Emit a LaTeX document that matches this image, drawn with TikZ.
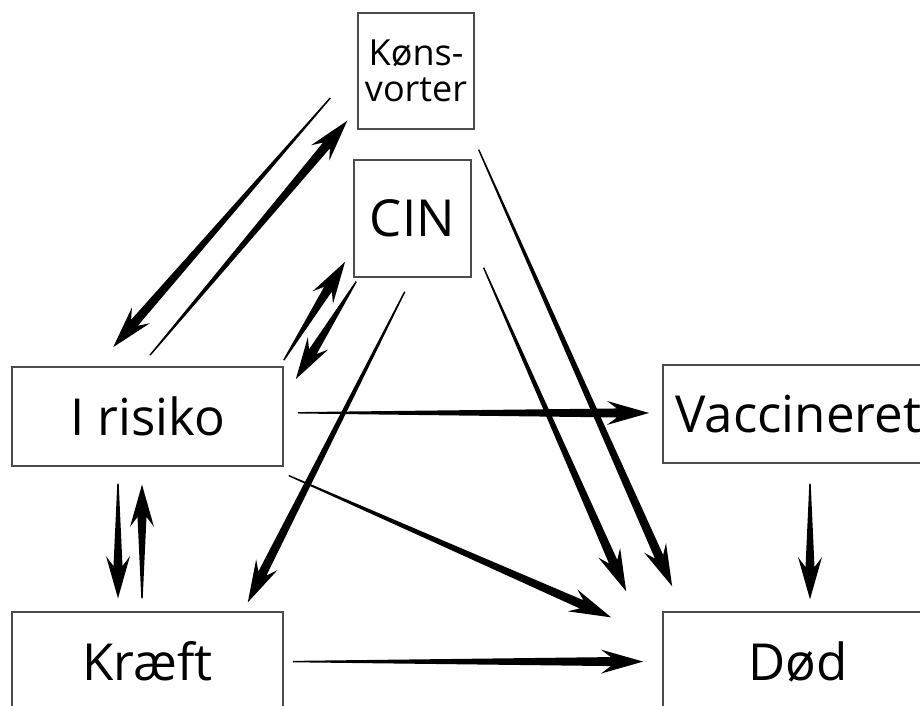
\documentclass[tikz,border=0pt]{standalone}
\usepackage{fontspec}
\setmainfont{Open Sans}
\usetikzlibrary{calc}
\tikzset{
  state/.style={draw=black!70, line width=1pt, inner sep=0pt,
    minimum width=6.775cm, minimum height=2.475cm,
    font=\fontsize{36.3}{40}\selectfont},
  smallstate/.style={state, minimum width=2.9cm, minimum height=2.9cm}
}
% tapered arrow, thin at the tail and wide at the head
\newcommand{\taper}[2]{%
  \path[fill=black] let \p1=(#1), \p2=(#2),
    \n1={atan2(\y2-\y1,\x2-\x1)}, \n2={veclen(\x2-\x1,\y2-\y1)} in
    [shift={(\p1)}, rotate=\n1]
    (0pt,-0.5pt) -- ({\n2-23pt},-3.2pt) -- ({\n2-30pt},-8.5pt) -- ({\n2},0pt)
    -- ({\n2-30pt},8.5pt) -- ({\n2-23pt},3.2pt) -- (0pt,0.5pt) -- cycle;}

\begin{document}
\begin{tikzpicture}
    \useasboundingbox (0,0) rectangle (23,17.65);
    \clip (0,0) rectangle (23,17.65);

    \node[smallstate, align=center, font=\fontsize{25.6}{25.6}\selectfont] (kons) at (10.4,15.875) {Køns-\\vorter};
    \node[smallstate, minimum width=2.925cm, minimum height=2.925cm] (cin) at (10.31,12.19) {CIN};
    \node[state] (risk) at (3.69,7.24) {I risiko};
    \node[state, minimum height=2.45cm] (vacc) at (19.96,7.3) {Vaccineret};
    \node[state] (kraeft) at (3.69,1.11) {Kræft};
    \node[state] (dod) at (19.96,1.11) {Død};

    \taper{$(kons.west)+(-0.675,-0.675)$}{$(risk.north)+(-0.86,0.475)$}
    \taper{$(risk.north)+(0.06,0.275)$}{$(kons.south west)+(-0.25,0.225)$}
    \taper{$(risk.north east)+(0,0.15)$}{$(cin.south west)+(-0.2,0.4)$}
    \taper{$(cin.south west)+(0.075,-0.1)$}{$(risk.north east)+(0.3,-0.325)$}
    \taper{$(cin.south)+(-0.19,-0.35)$}{$(kraeft.north east)+(-0.9,0.225)$}
    \taper{$(risk.east)+(0.35,0.09)$}{$(vacc.west)+(-0.325,0.025)$}
    \taper{$(risk.south east)+(0.125,-0.225)$}{$(dod.north west)+(-1.275,-0.15)$}
    \taper{$(kraeft.east)+(0.225,0)$}{$(dod.west)+(-0.475,0)$}
    \taper{$(cin.south east)+(0.3,0.25)$}{$(dod.north west)+(-0.9,0.5)$}
    \taper{$(kons.south east)+(0.1,-0.5)$}{$(dod.north west)+(0.25,0.625)$}
    \taper{$(vacc.south)+(0.29,-0.5)$}{$(dod.north)+(0.29,0.3)$}
    \taper{$(risk.south)+(-0.74,-0.425)$}{$(kraeft.north)+(-0.74,0.325)$}
    \taper{$(kraeft.north)+(-0.14,0.325)$}{$(risk.south)+(-0.14,-0.45)$}
\end{tikzpicture}
\end{document}
